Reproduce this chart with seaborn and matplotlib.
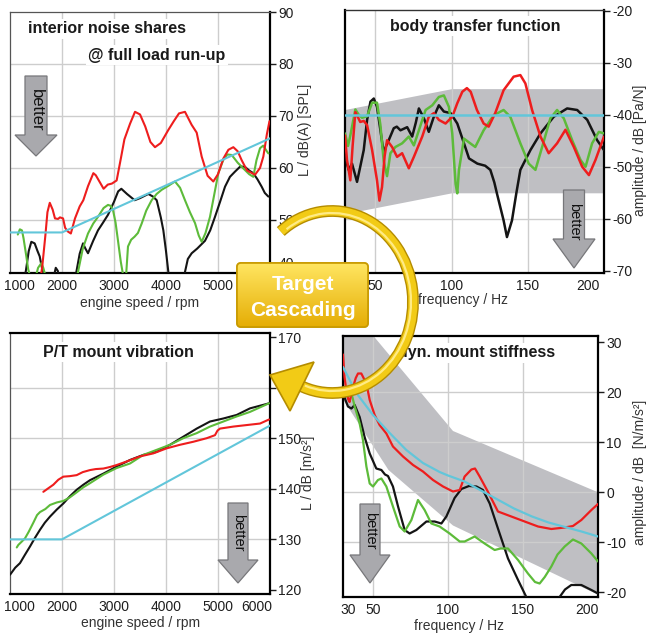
import numpy as np
import pandas as pd
import matplotlib
matplotlib.use("Agg")
import matplotlib.pyplot as plt
import seaborn as sns
from matplotlib.patches import Polygon, Arc, FancyBboxPatch
from matplotlib.transforms import ScaledTranslation

# ---------------- data ----------------
# Panel 1: interior noise shares @ full load run-up  (engine speed / rpm -> L / dB(A))
noise_black_rpm = [1250,1308,1360,1410,1474,1530,1571,1610,1635,1680,1840,1880,1920,1960,2230,2276,2340,2404,2450,2500,
                   2600,2692,2790,2885,3000,3080,3141,3250,3397,3500,3660,3750,3821,3900,3949,4000,4045,4080,4330,4365,
                   4420,4494,4600,4750,4850,4942,5040,5135,5230,5327,5430,5519,5600,5679,5760,5840,5900,5968]
noise_black_db = [37,40.4,44,45.8,45.5,44,43,41,40,37,39,40.8,40.2,37,37,40,43.5,45.5,44.5,43.6,
                  46,48,49.5,51,53.5,55.5,56,55,53.8,54.2,55,54.5,53.8,50.5,48,44,40,36,36,40,
                  42.5,43.6,44.5,46,48,50.6,53.5,56.4,58.3,59.3,60.3,60.2,59.5,59,57.8,56.4,55.2,54.5]
noise_green_rpm = [1150,1190,1230,1260,1314,1350,1378,1420,1480,1540,1603,1640,1667,1700,2270,2308,2400,2500,2600,2692,
                   2800,2885,2940,2981,3030,3077,3130,3173,3200,3225,3237,3269,3330,3397,3460,3532,3620,3724,3820,3917,
                   4050,4173,4270,4365,4460,4558,4630,4686,4760,4846,4930,5006,5100,5180,5263,5380,5519,5600,5679,5740,
                   5808,5870,5920,5968]
noise_green_db = [47.2,48.2,48,46.5,43,40.5,39.5,37,38.5,40.8,41.7,40.8,39.8,37,37,40,44.5,47.4,49.3,50.6,
                  52.3,52.9,52.7,51.9,49.5,46,42,39.5,36,36,40,44.9,46.2,46.8,47.5,49.3,51.8,53.8,55,55.8,
                  56.6,57.4,56.2,53.8,51.5,49.4,47,45.8,47.5,50.6,55,59,61.5,62.6,62.5,61,59.6,58.8,58.3,61.5,
                  63.8,64.3,63.5,62.8]
noise_red_rpm = [1560,1620,1680,1720,1765,1820,1865,1925,1960,2020,2060,2110,2170,2250,2340,2410,2500,2603,2650,2731,
                 2800,2880,2960,3051,3135,3200,3308,3404,3500,3600,3700,3788,3900,4044,4150,4250,4365,4493,4590,4686,
                 4800,4910,5000,5102,5200,5295,5380,5455,5560,5712,5808,5872,5940,5990]
noise_red_db = [37,41,47,51.5,53.3,52,50.3,50.2,50.5,50.3,48.5,47.8,47.4,50.3,52.6,53.8,56.5,59,58.6,57.2,
                56,56.8,57,57.6,62,65.5,68.5,70.8,70.3,68,65,64,64.8,67.3,69,70.5,70.8,68.3,66.8,62.2,
                58.5,57.4,58.8,61.8,63.5,64,63.2,61.5,59.5,58.7,60,62.2,66.5,69]
noise_target_rpm = [1000, 2000, 6000]
noise_target_db = [47.6, 47.6, 65.7]
noise_xticks = [1000, 2000, 3000, 4000, 5000]
noise_yticks = [40, 50, 60, 70, 80, 90]

# Panel 2: body transfer function (frequency / Hz -> amplitude / dB [Pa/N])
btf_black_hz = [30,32.4,34.6,37.9,40,42.3,44.5,46.7,48.9,51,53.2,55.4,57,58.7,62,64,66.4,70.8,74.1,76.5,
                78.5,81.8,85,88.3,91.6,94.9,99.3,103.7,108.1,111.4,116.9,122,125.4,128,129.7,134.1,136.3,139.6,142.5,145.1,
                151.7,158.3,167,175.8,182.4,189,195.5,200]
btf_black_db = [-48,-50.6,-49.4,-52.9,-50,-46.8,-41,-37.5,-36.9,-38.5,-42.9,-47.4,-46,-44.9,-42.6,-42.3,-43,-42.4,-44.2,-41.5,
                -38.8,-40.7,-43.3,-40.4,-38.2,-39.4,-39.7,-41.7,-45.5,-48.4,-49.4,-49.8,-50.6,-53,-55.1,-60.3,-63.5,-60.3,-55,-50.6,
                -46.8,-43.6,-40.4,-38.8,-39.1,-41,-44.9,-46.8]
btf_red_hz = [30,31.3,33.5,35,36.8,38.5,40,42.3,44.5,47.8,51,52.6,54.3,56,57.6,60.9,64.2,67.5,71.9,75.2,
              80.7,85,88.3,91.6,96,100.4,103.7,107,110,112.5,116.6,121,124.3,128.6,134.1,140.7,145.1,148.4,152.8,158.3,
              163.7,169.2,174.7,180.2,185.7,190.1,194.4,200]
btf_red_db = [-44,-48.7,-52.6,-46,-39.5,-40.5,-41.4,-41.2,-42,-46.8,-52.6,-56.5,-53.9,-48,-44.9,-46.2,-48.1,-47.4,-50.3,-48.1,
              -44.2,-40.4,-39.7,-41,-41.7,-40.4,-37.8,-35.6,-34.9,-35.6,-39.1,-41.7,-42.3,-39.7,-35.3,-32.7,-32.4,-34,-39.1,-44.2,
              -47.4,-45.5,-42.9,-46.2,-50,-51.6,-48.7,-44.2]
btf_green_hz = [30,32,33.5,36.8,39,41.2,44.5,47.8,51,53.2,55.4,57.6,59.8,63.1,67.5,71.9,75.2,78.5,82.9,87.3,
                91.6,94.9,98.2,100.4,102.6,103.7,104.8,108.1,112.2,115.5,121,127.6,134.1,138.5,145.1,150.6,155,159.4,164.8,169.2,
                173.6,179.1,184.6,187.9,192.2,196.6,200]
btf_green_db = [-43.6,-46,-44,-39,-40,-40.6,-40.3,-37.7,-37.7,-41.9,-48.9,-51.8,-47.4,-46.2,-45.5,-44.2,-45.9,-43,-39.1,-38.2,
                -36.6,-36.3,-38.5,-43.6,-53.3,-55.1,-50.6,-44.6,-45.5,-46.2,-43,-40.1,-39.1,-40.4,-45.5,-49.4,-50.6,-46.2,-40.7,-39.1,
                -40.7,-44.9,-48.7,-50,-45.5,-43.3,-43.6]
btf_target_hz = [30, 200]
btf_target_db = [-40, -40]
btf_band_hz = [30, 100, 200]
btf_band_upper = [-39, -35, -35]
btf_band_lower = [-59, -55, -55]
btf_xticks = [50, 100, 150, 200]
btf_yticks = [-70, -60, -50, -40, -30, -20]

# Panel 3: P/T mount vibration (engine speed / rpm -> L / dB [m/s²])
mount_red_rpm = [1641,1750,1833,1930,2026,2150,2282,2400,2538,2650,2795,2920,3051,3244,3500,3756,4013,4269,4526,4782,
                 4942,4990,5038,5295,5551,5808,5981]
mount_red_db = [139.4,140.2,140.8,141.8,142.4,142.5,142.7,143.3,143.7,143.9,144,144.3,144.7,145.4,146.4,147,148,148.7,149.3,150,
                150.6,151.5,151.9,152.3,152.6,152.9,153.7]
mount_black_rpm = [1000,1100,1192,1290,1385,1480,1577,1670,1769,1900,2026,2150,2282,2410,2538,2795,3051,3308,3564,3820,
                   4077,4333,4590,4846,5103,5359,5615,5872,5981]
mount_black_db = [123,124.4,125.3,127,128.6,130.3,131.9,133.3,134.5,135.9,137.1,138.5,139.8,140.8,141.7,143,144.4,145.7,146.7,147.3,
                  148.7,150.3,151.9,153.3,153.9,154.6,155.9,156.6,156.9]
mount_green_rpm = [1130,1160,1220,1288,1360,1449,1520,1577,1680,1769,1900,2026,2150,2282,2410,2538,2795,3051,3308,3564,
                   3820,4077,4333,4590,4846,5103,5359,5615,5981]
mount_green_db = [128.4,128.9,129.5,130.2,131.5,133.3,134.8,135.4,136,136.8,137.3,137.6,138.3,139.3,140.3,141.1,142.8,144.1,145,146.7,
                  147.7,148.7,150,151,152.3,153.3,154.3,155.2,156.9]
mount_target_rpm = [1000, 2000, 6000]
mount_target_db = [130, 130, 152.5]
mount_xticks = [1000, 2000, 3000, 4000, 5000, 6000]
mount_yticks = [120, 130, 140, 150, 160, 170]

# Panel 4: dyn. mount stiffness (frequency / Hz -> amplitude / dB [N/m/s²])
stiff_red_hz = [30,31,32.2,33.5,34.4,35.5,36.7,38.5,40,42.2,45.6,47.8,51.1,54.4,58.9,63.3,70,76.7,83.3,90,
                96.7,103.3,107.8,111.1,115.6,118,121.1,126.7,133.3,142.2,151.1,160,168.9,177.8,183.3,188.9,195.6,200]
stiff_red_db = [27.5,23,20.4,18.5,18,19.5,21,22.8,23.7,23.7,21.7,18.4,15.4,13.4,11.7,9.1,7.1,5.4,4.1,2.4,
                1.1,0.1,0.4,3.1,4.5,4.7,3.1,0,-3.9,-4.9,-5.9,-6.9,-7.4,-7.1,-6.8,-5.6,-3.6,-2.4]
stiff_black_hz = [30,31.5,33.3,35.6,37.8,41.1,44.4,47.8,52.2,55.6,58,60,63.3,66.7,71.1,74.4,78.9,85.6,91.1,95.6,
                  98.9,104.4,108.9,114,119,123.3,127.8,133.3,140,146.7,152.2,156,170,174.4,178,182.2,188.9,195.6,200]
stiff_black_db = [20.5,18.5,17.1,16.7,17.4,15,11,7.7,4.7,4.4,3.5,3.2,1.1,-2.9,-7.6,-8.3,-7.6,-5.9,-5.9,-6.3,
                  -4.9,-1.2,0.6,1.2,1.1,0.4,-2.3,-7.3,-13.3,-17.6,-21,-24,-24,-21,-19.5,-18.6,-18.6,-19.6,-20.3]
stiff_green_hz = [35,37.8,41.1,43.3,45.6,47.8,50,53.3,55.6,58.9,63.3,67.8,71.1,75.6,80,84.4,88.9,94.4,101.1,107.8,
                  111.1,117.8,124.4,131.1,135,140,146.7,153.3,158,161.1,164.5,168.9,173,177.8,183.3,188.9,195.6,200]
stiff_green_db = [20.5,17.1,13.7,10.4,5.1,1.7,1.1,2.4,2.7,1.1,-2.9,-6.9,-7.9,-5.6,-1.6,-3.6,-6.3,-6.9,-8.3,-9.9,
                  -9.9,-8.9,-10.3,-11.6,-11.3,-11.3,-13.6,-16.3,-18,-18.3,-17,-14.9,-12.5,-10.9,-9.5,-10.3,-12.3,-13.9]
stiff_target_hz = [30,38.9,50,61.1,72.2,83.3,94.4,100,111,122,133,144,156,167,178,189,200]
stiff_target_db = [25,19.8,15.4,11.8,8.4,5.8,4,3.3,2.1,0.3,-1.5,-3.3,-4.9,-6.1,-7,-7.9,-8.9]
stiff_band_hz = [30, 60, 103, 200]
stiff_band_upper = [38.5, 27.7, 12.3, 0]
stiff_band_lower = [18.5, 4.5, -6.6, -20.5]
stiff_xticks = [30, 50, 100, 150, 200]
stiff_yticks = [-20, -10, 0, 10, 20, 30]

# ---------------- style ----------------
sns.set_theme(style="white")
plt.rcParams['font.family'] = ['Liberation Sans', 'DejaVu Sans']

PAL = {'black': '#141414', 'green': '#5DBB3A', 'red': '#EE1D1D', 'target': '#62C6DA'}
ORDER = ['black', 'green', 'red', 'target']
GRID = '#CDCDCD'
BAND = '#BFBFC3'
TXT = '#1E1E1E'

W, H = 646, 636
fig = plt.figure(figsize=(W / 100, H / 100), dpi=100)
fig.patch.set_facecolor('white')


def add_ax(x0, y0, x1, y1):
    return fig.add_axes([x0 / W, 1 - y1 / H, (x1 - x0) / W, (y1 - y0) / H])


def frame(series):
    parts = []
    for name, (xs, ys) in series.items():
        parts.append(pd.DataFrame({'x': xs, 'y': ys, 'series': name}))
    return pd.concat(parts, ignore_index=True)


def shift(label, dx=0, dy=0):
    label.set_transform(label.get_transform() + ScaledTranslation(dx / 100, -dy / 100, fig.dpi_scale_trans))


def panel(ax, df, lw, xlim, ylim, xticks, yticks, vgrid, hgrid, xlabel, ylabel,
          xl_pos, yl_pos, title, title_pos, first_dx=0, last_dx=0, spines=None):
    for v in vgrid:
        ax.axvline(v, color=GRID, lw=1.0, zorder=1.5)
    for h in hgrid:
        ax.axhline(h, color=GRID, lw=1.0, zorder=1.5)
    sns.lineplot(data=df, x='x', y='y', hue='series', hue_order=ORDER, palette=PAL,
                 estimator=None, sort=False, legend=False, linewidth=lw, ax=ax, zorder=3)
    ax.set_xlim(xlim)
    ax.set_ylim(ylim)
    ax.set_xticks(xticks)
    ax.set_xticklabels([str(t) for t in xticks])
    ax.set_yticks(yticks)
    ax.set_yticklabels([str(t) for t in yticks])
    ax.yaxis.tick_right()
    ax.tick_params(axis='y', direction='out', length=4, width=1, pad=2, labelsize=10,
                   colors=TXT, right=True, left=False)
    ax.tick_params(axis='x', length=0, pad=4, labelsize=10, colors=TXT)
    labels = ax.get_xticklabels()
    if first_dx:
        shift(labels[0], dx=first_dx)
    if last_dx:
        shift(labels[-1], dx=last_dx)
    ax.set_xlabel(xlabel, fontsize=10, color='#333333')
    ax.xaxis.set_label_coords(*xl_pos)
    ax.xaxis.label.set_va('center')
    ax.set_ylabel(ylabel, fontsize=10, color='#333333', rotation=90)
    ax.yaxis.set_label_position('right')
    ax.yaxis.set_label_coords(*yl_pos)
    ax.yaxis.label.set_va('center')
    ax.yaxis.label.set_ha('center')
    for side, (col, w) in spines.items():
        ax.spines[side].set_visible(True)
        ax.spines[side].set_color(col)
        ax.spines[side].set_linewidth(w)
    ax.set_facecolor('white')
    for txt, (tx, ty) in zip(title, title_pos):
        ax.text(tx, ty, txt, transform=ax.transAxes, fontsize=11.5, fontweight='bold',
                color='#1A1A1A', ha='left', va='center', zorder=6,
                bbox=dict(boxstyle='square,pad=0.15', fc='white', ec='none'))


# ---- top-left: interior noise shares
ax_tl = add_ax(10, 12, 270, 273)
df_tl = frame({'black': (noise_black_rpm, noise_black_db), 'green': (noise_green_rpm, noise_green_db),
               'red': (noise_red_rpm, noise_red_db), 'target': (noise_target_rpm, noise_target_db)})
panel(ax_tl, df_tl, 1.5, (1000, 6000), (39.8, 90), noise_xticks, noise_yticks,
      [2000, 3000, 4000, 5000], [50, 60, 70, 80],
      'engine speed / rpm', 'L / dB(A) [SPL]', (0.5, -0.115), (1.135, 0.548),
      ['interior noise shares', '@ full load run-up'], [(0.069, 0.935), (0.30, 0.835)],
      first_dx=9,
      spines={'left': ('#555555', 0.9), 'top': ('#555555', 0.9), 'right': ('black', 1.6), 'bottom': ('black', 1.6)})
shift(ax_tl.get_yticklabels()[0], dy=-9)

# ---- top-right: body transfer function
ax_tr = add_ax(345, 10, 604, 273)
ax_tr.fill_between(btf_band_hz, btf_band_lower, btf_band_upper, color=BAND, lw=0, zorder=1)
df_tr = frame({'black': (btf_black_hz, btf_black_db), 'green': (btf_green_hz, btf_green_db),
               'red': (btf_red_hz, btf_red_db), 'target': (btf_target_hz, btf_target_db)})
panel(ax_tr, df_tr, 1.8, (30, 200), (-70.4, -19.9), btf_xticks, btf_yticks,
      [50, 100, 150], [-30, -40, -50, -60],
      'frequency / Hz', 'amplitude / dB [Pa/N]', (0.456, -0.103), (1.139, 0.468),
      ['body transfer function'], [(0.174, 0.939)], last_dx=-16,
      spines={'left': ('black', 1.6), 'top': ('#333333', 1.0), 'right': ('black', 1.6), 'bottom': ('black', 1.6)})

# ---- bottom-left: P/T mount vibration
ax_bl = add_ax(10, 333, 270, 594)
df_bl = frame({'black': (mount_black_rpm, mount_black_db), 'green': (mount_green_rpm, mount_green_db),
               'red': (mount_red_rpm, mount_red_db), 'target': (mount_target_rpm, mount_target_db)})
panel(ax_bl, df_bl, 1.5, (1000, 6000), (119.2, 170.8), mount_xticks, mount_yticks,
      [2000, 3000, 4000, 5000], [130, 140, 150, 160],
      'engine speed / rpm', 'L / dB [m/s²]', (0.504, -0.11), (1.146, 0.464),
      ['P/T mount vibration'], [(0.127, 0.927)], first_dx=9, last_dx=-13,
      spines={'left': ('#555555', 0.9), 'top': ('black', 1.6), 'right': ('black', 1.6), 'bottom': ('black', 1.6)})

# ---- bottom-right: dyn. mount stiffness
ax_br = add_ax(343, 336, 598, 597)
ax_br.fill_between(stiff_band_hz, stiff_band_lower, stiff_band_upper, color=BAND, lw=0, zorder=1)
df_br = frame({'black': (stiff_black_hz, stiff_black_db), 'green': (stiff_green_hz, stiff_green_db),
               'red': (stiff_red_hz, stiff_red_db), 'target': (stiff_target_hz, stiff_target_db)})
panel(ax_br, df_br, 1.6, (30, 200), (-21, 31.2), stiff_xticks, stiff_yticks,
      [50, 100, 150], [-10, 0, 10, 20],
      'frequency / Hz', 'amplitude / dB  [N/m/s²]', (0.455, -0.11), (1.165, 0.479),
      ['dyn. mount stiffness'], [(0.216, 0.935)], first_dx=5, last_dx=-11,
      spines={'left': ('black', 1.6), 'top': ('black', 1.6), 'right': ('black', 1.6), 'bottom': ('black', 1.6)})

# ---------------- overlay decorations (pixel coordinates) ----------------
ov = fig.add_axes([0, 0, 1, 1], zorder=10)
ov.set_facecolor('none')
ov.axis('off')


def better_arrow(cx, top, shaft_w, head_base, head_w, tip, text_y, fs):
    pts = [(cx - shaft_w / 2, top), (cx + shaft_w / 2, top), (cx + shaft_w / 2, head_base),
           (cx + head_w / 2, head_base), (cx, tip), (cx - head_w / 2, head_base), (cx - shaft_w / 2, head_base)]
    ov.add_patch(Polygon(pts, closed=True, fc='#A9A9AD', ec='#77777A', lw=0.9, zorder=2))
    ov.text(cx, text_y, 'better', rotation=270, ha='center', va='center', fontsize=fs, color='#111111', zorder=3)


better_arrow(36, 76, 22, 135, 42, 156, 110, 12)
better_arrow(574, 190, 21, 239, 42, 268, 222, 10.5)
better_arrow(238, 503, 20, 560, 40, 583, 533, 10.5)
better_arrow(370, 504, 20, 555, 40, 583, 531, 10.5)

# yellow cascading ring
cx, cy, rx, ry = 332, 302, 81, 91
ov.add_patch(Arc((cx, cy), 2 * rx, 2 * ry, theta1=-126, theta2=112, color='#B48C00', lw=8.5, zorder=4))
ov.add_patch(Arc((cx, cy), 2 * rx, 2 * ry, theta1=-126, theta2=112, color='#F2CB16', lw=6.5, zorder=5))
ov.add_patch(Arc((cx, cy), 2 * rx - 4, 2 * ry - 4, theta1=-122, theta2=108, color='#FFEB85', lw=1.6, zorder=6))
ov.add_patch(Polygon([(270, 375), (314, 362), (290, 411)], closed=True, fc='#F2CB16', ec='#B48C00',
                     lw=1.2, zorder=6, joinstyle='miter'))

# Target Cascading box with vertical gradient
box = FancyBboxPatch((237, 263), 131, 64, boxstyle='round,pad=0,rounding_size=4',
                     fc='#F0C414', ec='#C89A00', lw=1.2, zorder=7)
ov.add_patch(box)
grad = np.linspace(0, 1, 64)[:, None]
top_c = np.array([1.0, 0.90, 0.38])
bot_c = np.array([0.90, 0.68, 0.02])
img = (top_c[None, None, :] * (1 - grad[..., None]) + bot_c[None, None, :] * grad[..., None])
img = np.repeat(img, 4, axis=1)
im = ov.imshow(img, extent=(237, 368, 327, 263), aspect='auto', zorder=7.5, interpolation='bilinear')
im.set_clip_path(box)
ov.add_patch(FancyBboxPatch((237, 263), 131, 64, boxstyle='round,pad=0,rounding_size=4',
                            fc='none', ec='#C89A00', lw=1.2, zorder=8))
ov.text(302.5, 284, 'Target', ha='center', va='center', fontsize=15, fontweight='bold', color='white', zorder=9)
ov.text(302.5, 311, 'Cascading', ha='center', va='center', fontsize=15, fontweight='bold', color='white', zorder=9)

ov.set_xlim(0, W)
ov.set_ylim(H, 0)

fig.savefig('out.png', dpi=100, facecolor='white')
